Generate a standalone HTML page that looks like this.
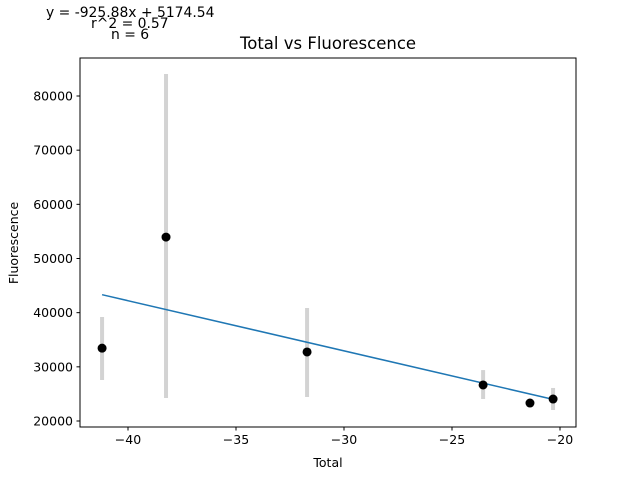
<!DOCTYPE html>
<html><head><meta charset="utf-8"><style>
body{margin:0;background:#fff;font-family:"Liberation Sans","DejaVu Sans",sans-serif}
svg text{font-family:"DejaVu Sans","Liberation Sans",sans-serif}
</style></head><body>
<svg id="c" width="640" height="480">
<rect width="640" height="480" fill="#fff"/>
<text x="46" y="17" font-size="13.9">y = -925.88x + 5174.54</text>
<text x="91" y="28" font-size="13.9">r^2 = 0.57</text>
<text x="111" y="39" font-size="13.9">n = 6</text>
<text x="328" y="49" font-size="16.5" text-anchor="middle">Total vs Fluorescence</text>
<g id="plot"></g>
<rect x="80" y="58" width="496" height="369" fill="none" stroke="#000" stroke-width="1"/>
<text x="328" y="467" font-size="12.5" text-anchor="middle">Total</text>
<text transform="translate(18,243) rotate(-90)" font-size="12.5" text-anchor="middle">Fluorescence</text>
</svg>
<script>
const xs=[-41.2,-38.24,-31.71,-23.56,-21.39,-20.32];
const ys=[33450,53950,32740,26650,23320,24060];
const errLo=[27570,24250,24430,24060,23320,22030];
const errHi=[39200,84060,40860,29400,23320,26100];
const xTicks=[-40,-35,-30,-25,-20];
const yTicks=[20000,30000,40000,50000,60000,70000,80000];
const slope=-925.88, intercept=5174.54;
const X=v=>128+(v+40)*21.6;
const Y=v=>421-(v-20000)*325/60000;
const g=document.getElementById('plot');
const NS='http://www.w3.org/2000/svg';
function mk(t,a){const e=document.createElementNS(NS,t);for(const k in a)e.setAttribute(k,a[k]);g.appendChild(e);return e;}
xTicks.forEach(t=>{
 const l=mk('line',{x1:X(t),x2:X(t),y1:427,y2:430.5,stroke:'#000'});
 
 
 const tx=mk('text',{x:X(t),y:444,'font-size':12.5,'text-anchor':'middle'});tx.textContent=t===0?'0':'\u2212'+Math.abs(t);
 
 
});
yTicks.forEach(t=>{
 const l=mk('line',{x1:76.5,x2:80,y1:Y(t),y2:Y(t),stroke:'#000'});
 
 
 const tx=mk('text',{x:73,y:Y(t)+4.5,'font-size':12.5,'text-anchor':'end'});tx.textContent=t;
 
 
});
xs.forEach((x,i)=>{
 const e=mk('line',{x1:X(x),x2:X(x),y1:Y(errLo[i]),y2:Y(errHi[i]),stroke:'#d3d3d3','stroke-width':4});
 
 
});
const x0=Math.min(...xs),x1=Math.max(...xs);
const fl=mk('line',{x1:X(x0),y1:Y(slope*x0+intercept),x2:X(x1),y2:Y(slope*x1+intercept),stroke:'#1f77b4','stroke-width':1.5});


xs.forEach((x,i)=>{
 const c=mk('circle',{cx:X(x),cy:Y(ys[i]),r:4.5,fill:'#000'});
 
 
});
</script>
</body></html>
